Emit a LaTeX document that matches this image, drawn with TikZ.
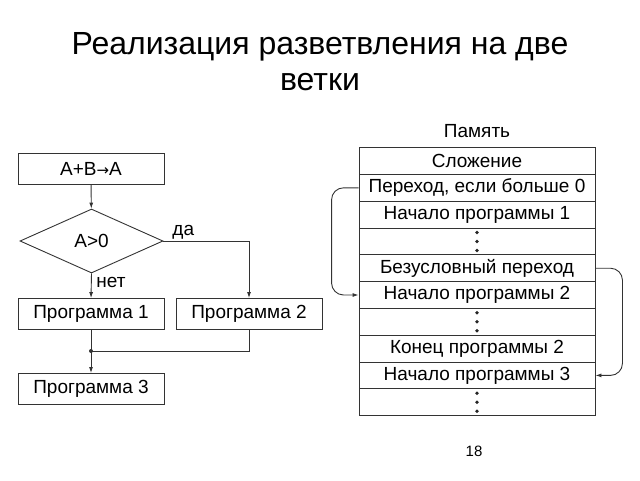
\documentclass[tikz,border=0pt]{standalone}
\usepackage{fontspec}
\setmainfont{Liberation Sans}
\newfontfamily\arrowfont{DejaVu Sans}
\usetikzlibrary{shapes.geometric,arrows.meta,positioning}

\begin{document}
\begin{tikzpicture}[
	x=1pt, y=-1pt,
	line width=0.9pt,
	block/.style={draw=black!80, minimum width=146pt, minimum height=31pt, inner sep=0pt, font=\fontsize{19}{21}\selectfont},
	cond/.style={diamond, draw=black!80, minimum width=143pt, minimum height=64pt, inner sep=0pt, font=\fontsize{19}{21}\selectfont},
	cell/.style={draw=black!80, minimum width=236pt, minimum height=26.8pt, inner sep=0pt, font=\fontsize{19}{21}\selectfont},
	lbl/.style={font=\fontsize{19}{21}\selectfont, inner sep=0pt},
	flow/.style={draw=black!80, -{Latex[length=6pt,width=4pt]}}
]
	\useasboundingbox (0,0) rectangle (640,480);
	\node[align=center, font=\fontsize{32}{36}\selectfont] (title) at (320,62) {Реализация разветвления на две\\ветки};

	\node[block] (op) at (91,168.5) {A+B{\arrowfont\fontsize{15}{15}\selectfont→}A};
	\node[cond] (test) at (91.5,241) {A>0};
	\node[block] (prog1) at (91,314) {Программа 1};
	\node[block] (prog2) at (249,314) {Программа 2};
	\node[block] (prog3) at (91,389) {Программа 3};
	\coordinate (join) at (91,351);

	\draw[flow] (op) -- (test);
	\draw[flow] (test.east) -| (prog2.north);
	\draw[flow] (test.south) -- (prog1.north);
	\draw[draw=black!80] (prog2.south) |- (join);
	\draw[flow] (prog1.south) -- (prog3.north);
	\fill[black!80] (join) circle (2);
	\node[lbl, anchor=base west] (yes) at (172,235) {да};
	\node[lbl, anchor=base west] (no) at (96,287) {нет};

	\node[lbl, anchor=base] (mem) at (477,137) {Память};
	\foreach \txt [count=\i] in {Сложение, {Переход, если больше 0}, Начало программы 1, {},
		Безусловный переход, Начало программы 2, {}, Конец программы 2, Начало программы 3, {}}
		\node[cell] (m\i) at (477,{161+26.8*(\i-1)}) {\txt};
	\foreach \i in {4,7,10}
		\foreach \d in {-9,0,9}
			\fill[black!85] ([yshift=\d pt]m\i.center) circle (1.9);

	\draw[flow, rounded corners=12pt] (m2.west) -- ++(-27,0) |- (m6.west);
	\draw[flow, rounded corners=12pt] (m5.east) -- ++(27,0) |- (m9.east);

	\node[anchor=base, font=\fontsize{15}{18}\selectfont] (page) at (474,456) {18};
\end{tikzpicture}
\end{document}
